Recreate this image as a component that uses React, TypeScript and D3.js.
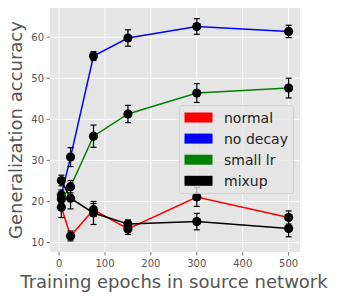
import React from 'react';
import { scaleLinear, line } from 'd3';

const epochs = [5, 25, 75, 150, 300, 500];
const xTicks = [0, 100, 200, 300, 400, 500];
const yTicks = [10, 20, 30, 40, 50, 60];

const normalAcc = [18.6, 11.6, 18.0, 13.3, 21.1, 16.1];
const normalErr = [2.5, 1.2, 1.5, 1.3, 2.3, 1.6];
const noDecayAcc = [21.6, 30.8, 55.4, 59.8, 62.6, 61.4];
const noDecayErr = [1.2, 2.3, 1.1, 2.0, 1.9, 1.5];
const smallLrAcc = [20.6, 23.6, 35.9, 41.3, 46.4, 47.6];
const smallLrErr = [1.2, 1.5, 2.7, 2.1, 2.3, 2.4];
const mixupAcc = [25.1, 20.8, 17.2, 14.5, 15.1, 13.4];
const mixupErr = [1.3, 2.6, 2.8, 1.0, 2.0, 2.0];

const seriesNames = ['normal', 'no decay', 'small lr', 'mixup'];
const seriesColors = ['#ff0000', '#0000ff', '#008000', '#000000'];

const App: React.FC = () => {
    const width = 337;
    const height = 298;
    const plot = { left: 50, right: 300, top: 8, bottom: 252 };

    const xScale = scaleLinear().domain([-19.75, 524.75]).range([plot.left, plot.right]);
    const yScale = scaleLinear().domain([7.7, 67.1]).range([plot.bottom, plot.top]);

    const series = [
        { vals: normalAcc, errs: normalErr },
        { vals: noDecayAcc, errs: noDecayErr },
        { vals: smallLrAcc, errs: smallLrErr },
        { vals: mixupAcc, errs: mixupErr },
    ];

    const lineGen = line<number>()
        .x((_, i) => xScale(epochs[i]))
        .y(d => yScale(d));

    const font = 'DejaVu Sans, sans-serif';

    return (
        <svg width={width} height={height} style={{ position: 'absolute', left: 0, top: 0 }} fontFamily={font}>
            <rect width={width} height={height} fill="#ffffff" />
            <rect x={plot.left} y={plot.top} width={plot.right - plot.left} height={plot.bottom - plot.top} fill="#e5e5e5" />

            {/* grid */}
            {xTicks.map(t => (
                <line key={'gx' + t} x1={xScale(t)} x2={xScale(t)} y1={plot.top} y2={plot.bottom} stroke="#fff" strokeWidth={1} />
            ))}
            {yTicks.map(t => (
                <line key={'gy' + t} x1={plot.left} x2={plot.right} y1={yScale(t)} y2={yScale(t)} stroke="#fff" strokeWidth={1} />
            ))}

            {/* ticks */}
            {xTicks.map(t => (
                <g key={'tx' + t}>
                    <line x1={xScale(t)} x2={xScale(t)} y1={plot.bottom} y2={plot.bottom + 3.5} stroke="#555" strokeWidth={0.8} />
                    <text x={xScale(t)} y={plot.bottom + 15} textAnchor="middle" fontSize={10} fill="#555">{t}</text>
                </g>
            ))}
            {yTicks.map(t => (
                <g key={'ty' + t}>
                    <line x1={plot.left - 3.5} x2={plot.left} y1={yScale(t)} y2={yScale(t)} stroke="#555" strokeWidth={0.8} />
                    <text x={plot.left - 6} y={yScale(t) + 3.5} textAnchor="end" fontSize={10} fill="#555">{t}</text>
                </g>
            ))}

            {/* series */}
            {series.map((s, si) => (
                <g key={'s' + si}>
                    <path d={lineGen(s.vals) || ''} fill="none" stroke={seriesColors[si]} strokeWidth={1.5} />
                    {s.vals.map((v, i) => {
                        const cx = xScale(epochs[i]);
                        const y1 = yScale(v - s.errs[i]);
                        const y2 = yScale(v + s.errs[i]);
                        return (
                            <g key={i}>
                                <line x1={cx} x2={cx} y1={y1} y2={y2} stroke="#000" strokeWidth={1.2} />
                                <line x1={cx - 3} x2={cx + 3} y1={y1} y2={y1} stroke="#000" strokeWidth={1.2} />
                                <line x1={cx - 3} x2={cx + 3} y1={y2} y2={y2} stroke="#000" strokeWidth={1.2} />
                                <circle cx={cx} cy={yScale(v)} r={4.6} fill="#000" />
                            </g>
                        );
                    })}
                </g>
            ))}

            {/* legend */}
            <g>
                <rect x={179.5} y={105.5} width={114} height={88} rx={3} fill="#e5e5e5" fillOpacity={0.8} stroke="#cccccc" strokeWidth={0.8} />
                {seriesNames.map((name, i) => (
                    <g key={name}>
                        <rect x={184.5} y={112.5 + i * 21.1} width={28} height={10} fill={seriesColors[i]} />
                        <text x={224} y={122.5 + i * 21.1} fontSize={14} fill="#222">{name}</text>
                    </g>
                ))}
            </g>

            {/* axis labels */}
            <text x={174} y={288} textAnchor="middle" fontSize={18} fill="#555">Training epochs in source network</text>
            <text transform={`translate(22, ${(plot.top + plot.bottom) / 2}) rotate(-90)`} textAnchor="middle" fontSize={18} fill="#555">
                Generalization accuracy
            </text>
        </svg>
    );
};

export default App;
